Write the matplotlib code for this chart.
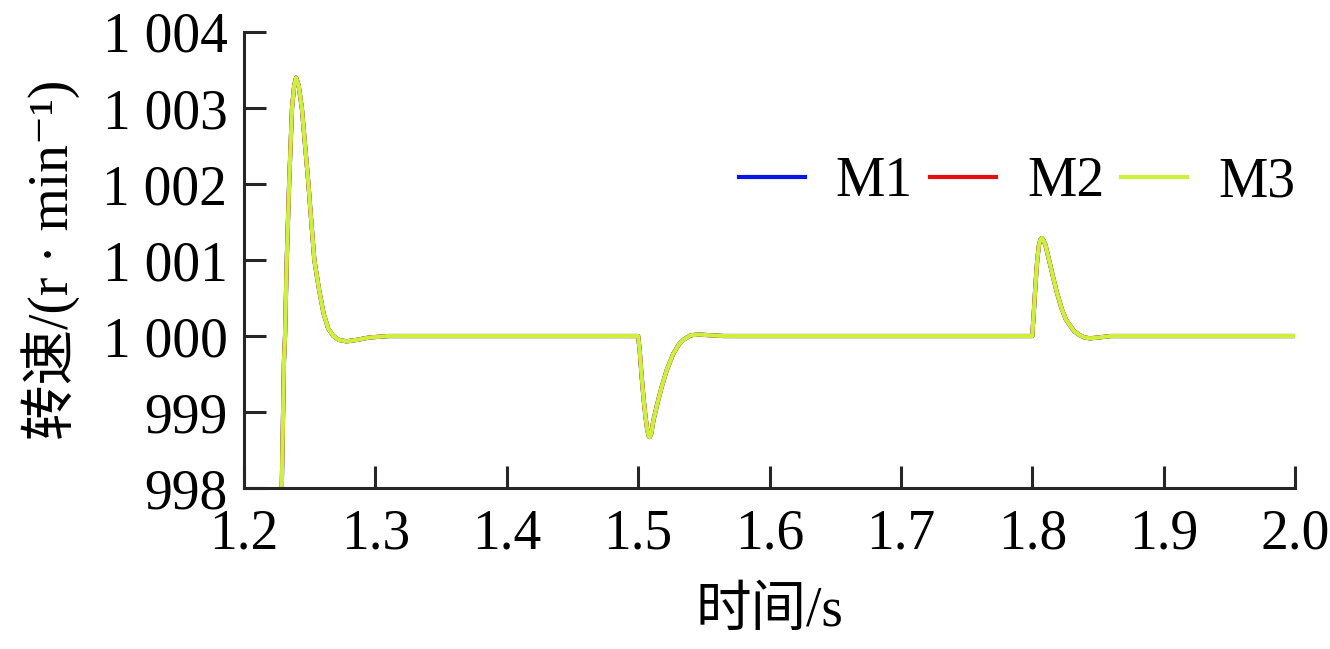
import matplotlib
matplotlib.use("Agg")
import matplotlib.pyplot as plt
from matplotlib.ticker import FuncFormatter

plt.rcParams['font.family'] = ['Liberation Serif', 'Noto Sans CJK SC', 'DejaVu Serif']

# time axis (s) and motor speeds (r/min)
time_s = [1.2280, 1.2287, 1.2304, 1.2312, 1.2325, 1.2343, 1.2365, 1.2382, 1.2396,
          1.2415, 1.2440, 1.2465, 1.2490, 1.2512, 1.2535, 1.2572, 1.2605, 1.2640,
          1.2680, 1.2720, 1.2780, 1.2860, 1.2950, 1.3100,
          1.5000, 1.5012, 1.5025, 1.5040, 1.5055, 1.5068, 1.5080, 1.5088, 1.5100,
          1.5116, 1.5146, 1.5179, 1.5217, 1.5268, 1.5310, 1.5344, 1.5400, 1.5460,
          1.5550, 1.5650,
          1.8000, 1.8005, 1.8013, 1.8021, 1.8030, 1.8039, 1.8051, 1.8062, 1.8072,
          1.8085, 1.8100, 1.8125, 1.8155, 1.8186, 1.8224, 1.8255, 1.8287, 1.8320,
          1.8363, 1.8400, 1.8440, 1.8500, 1.8600, 2.0000]

speed_m1 = [997.20, 998.00, 999.68, 1000.00, 1001.00, 1002.00, 1003.00, 1003.30, 1003.40,
            1003.30, 1003.00, 1002.50, 1002.00, 1001.50, 1001.00, 1000.60, 1000.30, 1000.10,
            1000.00, 999.95, 999.93, 999.95, 999.98, 1000.00,
            1000.00, 999.80, 999.50, 999.20, 998.95, 998.78, 998.68, 998.67, 998.72,
            998.89, 999.11, 999.33, 999.55, 999.77, 999.89, 999.95, 1000.01, 1000.02,
            1000.01, 1000.00,
            1000.00, 1000.14, 1000.35, 1000.58, 1000.82, 1001.02, 1001.20, 1001.27, 1001.29,
            1001.26, 1001.20, 1001.02, 1000.80, 1000.58, 1000.36, 1000.22, 1000.14, 1000.06,
            1000.01, 999.98, 999.97, 999.98, 1000.00, 1000.00]
speed_m2 = list(speed_m1)
speed_m3 = list(speed_m1)

series = [("M1", speed_m1, "#0a14e6"), ("M2", speed_m2, "#e60f0f"), ("M3", speed_m3, "#cdf03c")]

fig = plt.figure(figsize=(13.3, 6.49), dpi=100)
ax = fig.add_axes([0.1835, 0.248, 0.7902, 0.7027])

for name, vals, col in series:
    ax.plot(time_s, vals, color=col, linewidth=3, label=name)

ax.set_xlim(1.2, 2.0)
ax.set_ylim(998, 1004)
ax.set_xticks([1.2, 1.3, 1.4, 1.5, 1.6, 1.7, 1.8, 1.9, 2.0])
ax.set_yticks([998, 999, 1000, 1001, 1002, 1003, 1004])
ax.xaxis.set_major_formatter(FuncFormatter(lambda v, p: f"{v:.1f}"))
ax.yaxis.set_major_formatter(FuncFormatter(lambda v, p: f"{int(round(v)):,}".replace(",", " ")))

for s in ["top", "right"]:
    ax.spines[s].set_visible(False)
for s in ["left", "bottom"]:
    ax.spines[s].set_linewidth(2.2)
    ax.spines[s].set_color("#262626")
ax.tick_params(direction="in", length=16, width=2.2, color="#262626", labelsize=40)
ax.tick_params(axis="y", pad=12)
ax.tick_params(axis="x", pad=15)

ax.set_xlabel("时间/s", fontsize=40, labelpad=18)
ax.set_ylabel("转速/(r · min⁻¹)", fontsize=40, labelpad=16)

ax.legend(loc="center right", bbox_to_anchor=(1.0, 0.67), ncol=3, frameon=False,
          fontsize=40, handlelength=1.2, handletextpad=0.55, columnspacing=0.3,
          borderpad=0, borderaxespad=0)

fig.savefig("out.png", dpi=100)
